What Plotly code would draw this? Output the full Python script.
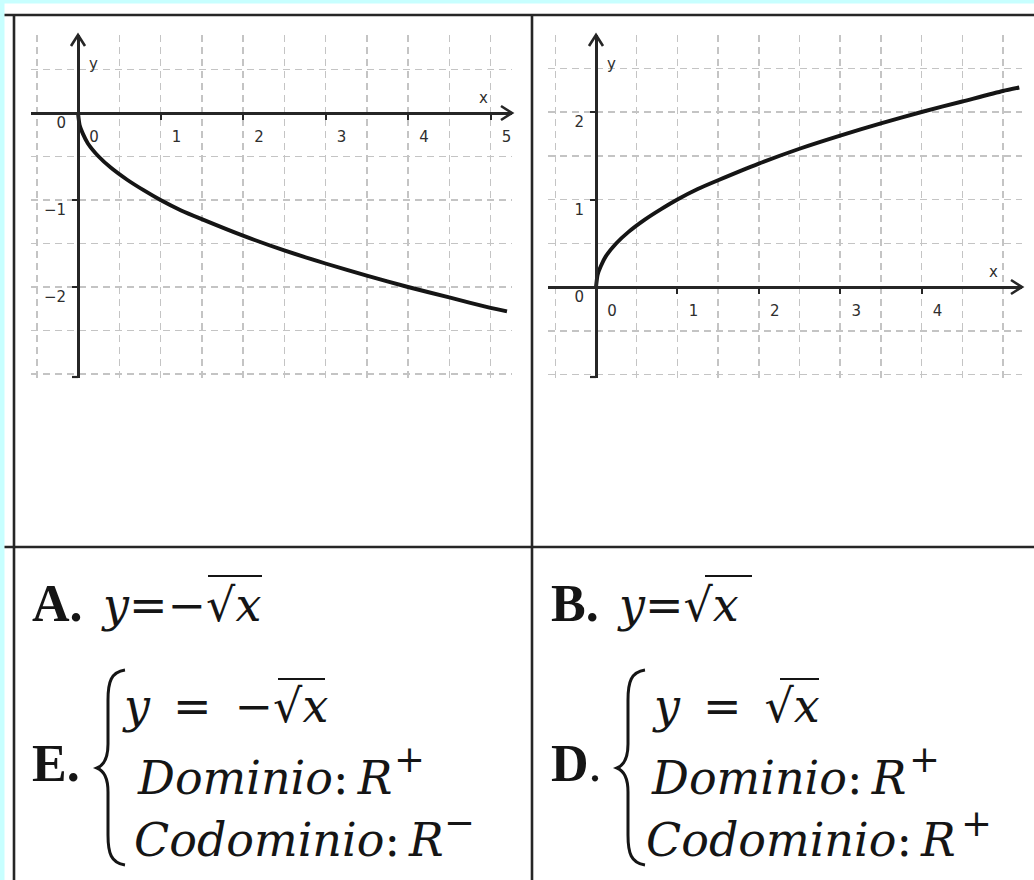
import plotly.graph_objects as go

W, H = 1034, 880

# ---------------- data ----------------
curve_x = [0, 0.02, 0.06, 0.12, 0.25, 0.4, 0.6, 0.8, 1.0, 1.25, 1.5, 2.0, 2.5, 3.0, 3.5, 4.0, 4.5, 5.0, 5.2]
curve_y_up = [0, 0.14, 0.24, 0.35, 0.5, 0.63, 0.77, 0.89, 1.0, 1.12, 1.22, 1.41, 1.58, 1.73, 1.87, 2.0, 2.12, 2.24, 2.28]
curve_y_down = [0, -0.14, -0.24, -0.35, -0.5, -0.63, -0.77, -0.89, -1.0, -1.12, -1.22, -1.41, -1.58, -1.73, -1.87, -2.0, -2.12, -2.24, -2.28]

left_xticks = [0, 1, 2, 3, 4, 5]
left_xlabels = ["0", "1", "2", "3", "4", "5"]
left_yticks = [0, -1, -2]
left_ylabels = ["0", "\u22121", "\u22122"]

right_xticks = [0, 1, 2, 3, 4]
right_xlabels = ["0", "1", "2", "3", "4"]
right_yticks = [0, 1, 2]
right_ylabels = ["0", "1", "2"]

# ---------------- layout helpers (pixel geometry) ----------------
def px(x):
    return x / W

def py(y):
    return 1 - y / H

def xrange_of(origin, unit, lo, hi):
    return [(lo - origin) / unit, (hi - origin) / unit]

def yrange_of(origin, unit, top, bottom):
    return [(origin - bottom) / unit, (origin - top) / unit]

INK = "#151515"
GRID = "#c4c4c4"
LINE = "#262626"
TICKFONT = dict(family="DejaVu Sans", size=15, color="#2e2e2e")

# left graph geometry
L = dict(ox=78, oy=113, ux=82.5, uy=87, x0=31, x1=512, y0=35, y1=378)
# right graph geometry
R = dict(ox=596, oy=287, ux=81.4, uy=87.5, x0=548, x1=1022, y0=35, y1=378)

fig = go.Figure()
fig.add_trace(go.Scatter(x=curve_x, y=curve_y_down, mode="lines", line=dict(color=INK, width=3.9, shape="spline", smoothing=0.6),
                         xaxis="x", yaxis="y", hoverinfo="skip", showlegend=False))
fig.add_trace(go.Scatter(x=curve_x, y=curve_y_up, mode="lines", line=dict(color=INK, width=3.9, shape="spline", smoothing=0.6),
                         xaxis="x2", yaxis="y2", hoverinfo="skip", showlegend=False))

GRIDCFG = dict(showgrid=True, gridcolor=GRID, gridwidth=1.5, griddash="7px,5px")

def xaxis_cfg(g, ticks, labels):
    return dict(
        domain=[px(g["x0"]), px(g["x1"])],
        range=xrange_of(g["ox"], g["ux"], g["x0"], g["x1"]),
        anchor="free", position=py(g["oy"]),
        tickmode="array", tickvals=ticks, ticktext=labels,
        ticks="outside", ticklen=5, tickwidth=2, tickcolor=LINE,
        showline=True, linecolor=LINE, linewidth=2.6,
        minor=dict(tickmode="linear", tick0=0, dtick=0.5, ticks="", **GRIDCFG),
        zeroline=False, fixedrange=True,
        tickfont=TICKFONT,
        ticklabelshift=16, ticklabelstandoff=4,
        **GRIDCFG,
    )

def yaxis_cfg(g, ticks, labels):
    return dict(
        domain=[py(g["y1"]), py(g["y0"])],
        range=yrange_of(g["oy"], g["uy"], g["y0"], g["y1"]),
        anchor="free", position=px(g["ox"]),
        tickmode="array", tickvals=ticks, ticktext=labels,
        ticks="outside", ticklen=5, tickwidth=2, tickcolor=LINE,
        showline=True, linecolor=LINE, linewidth=2.6,
        minor=dict(tickmode="linear", tick0=0, dtick=0.5, ticks="", **GRIDCFG),
        zeroline=False, fixedrange=True,
        tickfont=TICKFONT,
        ticklabelshift=10, ticklabelstandoff=3,
        **GRIDCFG,
    )

shapes = []
annotations = []

# background cyan strips
shapes.append(dict(type="rect", xref="paper", yref="paper", x0=0, x1=px(4.5), y0=0, y1=1, fillcolor="#c8ffff", line=dict(width=0), layer="below"))
shapes.append(dict(type="rect", xref="paper", yref="paper", x0=0, x1=1, y0=py(3.5), y1=1, fillcolor="#c8ffff", line=dict(width=0), layer="below"))

# table lines
def hline(y, xa, xb):
    shapes.append(dict(type="line", xref="paper", yref="paper", x0=px(xa), x1=px(xb), y0=py(y), y1=py(y), line=dict(color=LINE, width=2.6)))

def vline(x, ya, yb):
    shapes.append(dict(type="line", xref="paper", yref="paper", x0=px(x), x1=px(x), y0=py(ya), y1=py(yb), line=dict(color=LINE, width=2.6)))

hline(15, 4.5, W)
hline(547, 4.5, W)
vline(14, 15, H)
vline(532, 15, H)

# arrow heads, bottom end caps and axis names
for xa, ya in (("x", "y"), ("x2", "y2")):
    shapes.append(dict(type="path", xref=xa + " domain", yref=ya, xsizemode="pixel", ysizemode="pixel",
                       xanchor=1, yanchor=0, path="M-11,-7L0,0L-11,7", line=dict(color=LINE, width=2.6)))
    shapes.append(dict(type="path", xref=xa, yref=ya + " domain", xsizemode="pixel", ysizemode="pixel",
                       xanchor=0, yanchor=1, path="M-7,-11L0,0L7,-11", line=dict(color=LINE, width=2.6)))
    shapes.append(dict(type="line", xref=xa, yref=ya + " domain", xsizemode="pixel", ysizemode="pixel",
                       xanchor=0, yanchor=0, x0=-6, x1=0, y0=1, y1=1, line=dict(color=LINE, width=2.2)))
    annotations.append(dict(xref=xa, yref=ya + " domain", x=0, y=1, xanchor="left", yanchor="top", xshift=9, yshift=-18,
                            text="y", showarrow=False, font=dict(family="DejaVu Sans", size=15, color="#2e2e2e")))
    annotations.append(dict(xref=xa + " domain", yref=ya, x=1, y=0, xanchor="center", yanchor="bottom", xshift=-29, yshift=4,
                            text="x", showarrow=False, font=dict(family="DejaVu Sans", size=15, color="#2e2e2e")))

# ---------------- answer texts ----------------
SERIF_B = "Liberation Serif"
MATH = "DejaVu Serif"
SP = "\u2002"

def text_at(x, baseline, txt, size, family, descent):
    annotations.append(dict(xref="paper", yref="paper", x=px(x), y=py(baseline + descent * size), xanchor="left", yanchor="bottom",
                            text=txt, showarrow=False, borderpad=0, font=dict(family=family, size=size, color=INK)))

def sign_at(cx, cy, txt):
    annotations.append(dict(xref="paper", yref="paper", x=px(cx), y=py(cy), xanchor="center", yanchor="middle",
                            text=txt, showarrow=False, borderpad=0, font=dict(family=MATH, size=37, color=INK)))

def overline(xa, xb, y):
    shapes.append(dict(type="line", xref="paper", yref="paper", x0=px(xa), x1=px(xb), y0=py(y), y1=py(y), line=dict(color=INK, width=2.2)))

def brace(tx, ty, ex, top, bot, vx):
    pts = [("M", [(ex, top)]),
           ("C", [(vx + 3, top + 2), (vx, top + 12), (vx, top + 30)]),
           ("L", [(vx, ty - 24)]),
           ("C", [(vx, ty - 8), (tx + 5, ty - 2), (tx, ty)]),
           ("C", [(tx + 5, ty + 2), (vx, ty + 8), (vx, ty + 24)]),
           ("L", [(vx, bot - 30)]),
           ("C", [(vx, bot - 12), (vx + 3, bot - 2), (ex, bot)])]
    s = ""
    for cmd, plist in pts:
        s += cmd + " " + " ".join(f"{px(a):.5f},{py(b):.5f}" for a, b in plist) + " "
    shapes.append(dict(type="path", xref="paper", yref="paper", path=s.strip(), line=dict(color=INK, width=3)))

# left column
text_at(31, 622, "<b>A.</b>", 52, SERIF_B, 0.216)
text_at(100, 622, "<i>y</i>=\u2212\u221a<i>x</i>", 46, MATH, 0.236)
overline(208, 262, 576)
text_at(31, 782, "<b>E.</b>", 52, SERIF_B, 0.216)
brace(97, 768, 125, 670, 865, 108)
text_at(121, 723, "<i>y</i>" + SP + "=" + SP + "\u2212\u221a<i>x</i>", 46, MATH, 0.236)
overline(278, 325, 679)
text_at(136, 795, "<i>Dominio</i>:\u2009<i>R</i>", 46, MATH, 0.236)
sign_at(409, 759, "+")
text_at(133, 857, "<i>Codominio</i>:\u2009<i>R</i>", 46, MATH, 0.236)
sign_at(459, 822, "\u2212")

# right column
text_at(550, 622, "<b>B.</b>", 52, SERIF_B, 0.216)
text_at(616, 622, "<i>y</i>=\u221a<i>x</i>", 46, MATH, 0.236)
overline(705, 752, 576)
text_at(550, 782, "<b>D</b>.", 52, SERIF_B, 0.216)
brace(617, 768, 645, 670, 865, 628)
text_at(651, 723, "<i>y</i>" + SP + "=" + SP + "\u221a<i>x</i>", 46, MATH, 0.236)
overline(780, 819, 679)
text_at(650, 795, "<i>Dominio</i>:\u2009<i>R</i>", 46, MATH, 0.236)
sign_at(924, 759, "+")
text_at(645, 857, "<i>Codominio</i>:\u2009<i>R</i>", 46, MATH, 0.236)
sign_at(976, 823, "+")

fig.update_layout(
    width=W, height=H,
    margin=dict(l=0, r=0, t=0, b=0),
    paper_bgcolor="white", plot_bgcolor="rgba(0,0,0,0)",
    xaxis=xaxis_cfg(L, left_xticks, left_xlabels),
    yaxis=yaxis_cfg(L, left_yticks, left_ylabels),
    xaxis2=xaxis_cfg(R, right_xticks, right_xlabels),
    yaxis2=yaxis_cfg(R, right_yticks, right_ylabels),
    shapes=shapes,
    annotations=annotations,
    showlegend=False,
)

fig.write_html("out.html", config=dict(displayModeBar=False, staticPlot=True),
               post_script="document.body.style.margin='0px';document.body.style.padding='0px';document.body.style.overflow='hidden';")
